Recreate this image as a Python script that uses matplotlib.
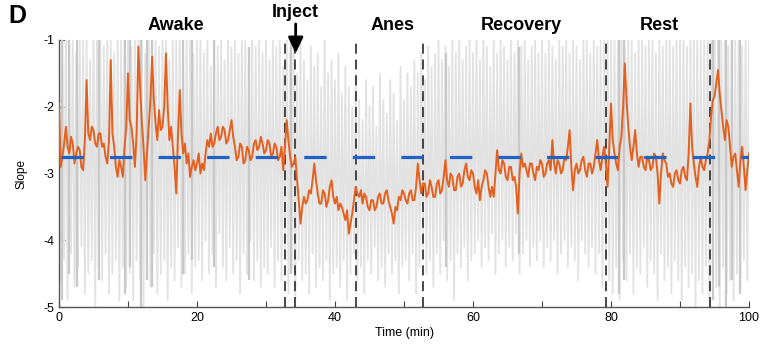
import numpy as np
import matplotlib
matplotlib.use("Agg")
import matplotlib.pyplot as plt

plt.rcParams['font.family'] = ['Liberation Sans', 'DejaVu Sans']

# ---------------- data ----------------
# smoothed slope (orange), one value every 0.25 min from 0 to 100
slope_smooth = [
    -1.95, -2.90, -2.75, -2.55, -2.30, -2.60, -2.70, -2.45, -2.55, -2.85, -2.70, -2.60, -2.65, -2.90, -2.95, -2.50, -1.60, -2.40, -2.50, -2.30,
    -2.35, -2.55, -2.60, -2.40, -2.40, -2.60, -2.55, -2.75, -2.85, -2.50, -1.30, -2.40, -2.60, -2.90, -3.05, -2.80, -2.90, -3.05, -2.60, -2.30,
    -1.50, -2.20, -2.30, -2.55, -2.90, -2.40, -1.10, -1.70, -2.20, -2.60, -3.10, -2.70, -2.30, -1.90, -1.25, -1.90, -2.25, -2.50, -2.05, -2.35,
    -2.30, -2.00, -1.20, -2.00, -2.50, -2.30, -2.60, -2.90, -3.30, -2.40, -1.75, -2.40, -2.70, -2.55, -2.85, -2.70, -3.05, -2.90, -2.80, -2.95,
    -2.85, -2.70, -3.00, -2.85, -2.95, -2.70, -2.50, -2.60, -2.40, -2.60, -2.55, -2.40, -2.30, -2.50, -2.45, -2.30, -2.35, -2.55, -2.50, -2.35,
    -2.20, -2.45, -2.60, -2.80, -2.75, -2.55, -2.60, -2.85, -2.80, -2.60, -2.65, -2.80, -2.75, -2.55, -2.50, -2.65, -2.60, -2.45, -2.55, -2.70,
    -2.65, -2.50, -2.55, -2.75, -2.70, -2.55, -2.60, -2.80, -2.75, -2.60, -2.95, -2.60, -2.20, -2.50, -2.75, -2.90, -2.85, -2.75, -3.10, -3.40,
    -3.75, -3.50, -3.35, -3.45, -3.40, -3.25, -3.30, -3.10, -2.85, -3.10, -3.30, -3.45, -3.45, -3.25, -3.30, -3.50, -3.40, -3.20, -3.10, -3.35,
    -3.45, -3.35, -3.55, -3.45, -3.50, -3.60, -3.70, -3.55, -3.90, -3.75, -3.60, -3.40, -3.20, -3.30, -3.35, -3.25, -3.45, -3.30, -3.35, -3.50,
    -3.55, -3.40, -3.40, -3.55, -3.50, -3.35, -3.30, -3.45, -3.45, -3.30, -3.25, -3.40, -3.50, -3.60, -3.75, -3.50, -3.55, -3.35, -3.40, -3.25,
    -3.30, -3.40, -3.45, -3.30, -3.25, -3.40, -3.40, -3.20, -2.85, -3.10, -3.30, -3.15, -3.15, -3.35, -3.30, -3.10, -3.20, -3.35, -3.35, -3.15,
    -3.10, -3.30, -3.25, -3.05, -2.80, -3.10, -3.20, -3.00, -3.05, -3.25, -3.25, -3.05, -3.00, -3.20, -3.15, -2.95, -2.85, -3.05, -3.10, -2.95,
    -3.00, -3.20, -3.30, -3.10, -3.40, -3.20, -3.10, -2.95, -3.00, -3.20, -3.35, -3.20, -3.35, -3.00, -2.65, -2.95, -3.00, -2.80, -2.85, -3.05,
    -3.10, -2.90, -2.90, -3.10, -3.05, -3.20, -3.60, -3.00, -2.70, -2.90, -2.85, -2.95, -3.05, -2.85, -2.85, -3.00, -3.10, -2.90, -2.95, -2.80,
    -2.85, -3.05, -3.00, -2.85, -2.80, -2.95, -2.50, -2.85, -3.00, -2.80, -2.85, -3.00, -2.95, -2.75, -2.80, -2.60, -2.35, -2.90, -3.25, -2.95,
    -2.85, -3.00, -2.95, -2.80, -2.75, -2.95, -3.05, -2.85, -2.85, -3.00, -2.90, -2.70, -2.50, -2.80, -2.95, -2.75, -2.60, -2.85, -3.20, -2.60,
    -1.95, -2.50, -2.70, -2.85, -2.95, -2.60, -2.45, -2.00, -1.35, -1.90, -2.30, -2.60, -2.80, -2.60, -2.35, -2.70, -2.90, -2.75, -2.75, -2.90,
    -2.95, -2.75, -2.80, -2.95, -2.90, -2.70, -2.75, -3.00, -3.45, -3.00, -2.70, -2.80, -2.85, -3.05, -3.00, -3.15, -3.20, -3.00, -2.95, -3.10,
    -3.15, -2.95, -2.90, -3.05, -3.10, -2.70, -1.95, -2.60, -2.85, -3.05, -3.20, -2.90, -2.75, -2.90, -2.95, -2.80, -2.70, -2.50, -2.15, -1.90,
    -1.85, -1.65, -1.45, -1.80, -2.05, -2.30, -2.50, -2.20, -2.30, -2.60, -2.90, -2.75, -2.70, -2.95, -3.20, -2.80, -2.60, -2.90, -3.25, -2.95,
    -2.70,
]

# raw slope (gray), one value every 0.25 min, alternating peak / trough
slope_raw = [
    -0.9, -4.6, -1.0, -4.3, -0.8, -4.9, -1.1, -4.2, -0.9, -4.7, -1.2, -4.4, -0.8, -4.1, -1.0, -4.8, -0.9, -4.5, -1.3, -4.3,
    -0.8, -5.0, -1.0, -4.4, -0.9, -4.6, -1.1, -4.2, -0.8, -4.8, -1.0, -4.5, -1.2, -4.3, -0.9, -4.9, -1.0, -4.4, -0.8, -4.7,
    -0.9, -4.5, -1.1, -4.9, -0.8, -4.3, -1.0, -4.6, -0.9, -5.0, -1.2, -4.4, -0.8, -4.7, -1.0, -4.2, -0.9, -4.8, -1.1, -4.5,
    -0.8, -4.3, -1.0, -4.9, -1.3, -4.4, -0.9, -4.6, -1.0, -4.1, -0.8, -4.7, -1.1, -4.5, -0.9, -4.2, -1.0, -4.8, -1.2, -4.4,
    -1.0, -4.3, -0.9, -4.6, -1.2, -4.0, -1.0, -4.5, -1.4, -4.2, -0.9, -4.7, -1.1, -3.9, -1.0, -4.4, -1.3, -4.6, -0.9, -4.1,
    -1.1, -4.5, -1.0, -4.3, -1.2, -4.8, -0.9, -4.2, -1.0, -4.5, -1.3, -4.0, -0.9, -4.6, -1.1, -4.3, -1.0, -4.7, -1.2, -4.4,
    -1.0, -4.5, -1.3, -4.1, -0.9, -4.7, -1.1, -4.3, -1.0, -4.6, -1.4, -4.2, -0.9, -4.8, -1.2, -4.4, -1.1, -4.9, -1.5, -4.3,
    -1.0, -4.6, -1.3, -4.5, -1.6, -4.8, -1.1, -4.2, -1.4, -4.7, -1.2, -4.4, -1.7, -4.6, -1.0, -4.3, -1.5, -4.9, -1.3, -4.5,
    -1.6, -4.4, -1.2, -4.7, -1.8, -4.3, -1.4, -4.9, -1.7, -4.5, -2.0, -4.2, -1.5, -4.6, -1.9, -4.4, -2.2, -4.8, -1.6, -4.3,
    -2.0, -4.5, -1.7, -4.1, -2.3, -4.6, -1.5, -4.4, -1.9, -4.7, -2.1, -4.2, -1.6, -4.5, -1.8, -4.3, -2.2, -4.8, -1.4, -4.4,
    -1.9, -4.3, -1.5, -4.6, -1.7, -4.2, -1.3, -4.8, -1.5, -4.4, -1.2, -4.1, -1.6, -4.5, -1.1, -4.3, -1.4, -4.7, -1.2, -4.2,
    -1.0, -4.5, -1.3, -4.0, -1.1, -4.6, -1.4, -4.3, -1.0, -4.9, -1.2, -4.2, -0.9, -4.4, -1.3, -4.1, -1.1, -4.6, -1.0, -4.3,
    -1.2, -4.2, -1.0, -4.0, -1.3, -4.4, -0.9, -4.1, -1.1, -4.3, -1.4, -3.9, -1.0, -4.5, -1.2, -4.2, -0.9, -4.0, -1.1, -4.4,
    -1.3, -4.1, -1.0, -4.3, -1.2, -3.9, -0.9, -4.5, -1.1, -4.2, -1.0, -4.0, -1.3, -4.4, -1.1, -4.1, -0.9, -4.3, -1.2, -4.0,
    -1.0, -4.4, -1.2, -4.1, -0.9, -4.3, -1.1, -4.0, -1.3, -4.5, -1.0, -4.2, -1.1, -4.0, -0.9, -4.4, -1.2, -4.1, -1.0, -4.3,
    -1.1, -4.6, -1.3, -4.0, -0.9, -4.2, -1.0, -4.4, -1.2, -4.1, -0.9, -4.5, -1.1, -4.2, -1.0, -4.7, -0.8, -4.3, -1.0, -4.6,
    -0.8, -4.8, -0.9, -4.4, -1.0, -4.9, -0.8, -4.3, -1.1, -4.6, -0.9, -4.2, -1.0, -4.8, -1.2, -4.4, -0.9, -4.5, -1.0, -4.1,
    -1.1, -4.7, -0.9, -4.3, -1.0, -4.5, -1.2, -4.9, -0.9, -4.2, -1.1, -4.6, -1.0, -4.4, -0.8, -4.8, -1.1, -4.3, -0.9, -4.6,
    -1.0, -4.9, -0.9, -4.4, -1.1, -4.7, -0.8, -4.5, -0.9, -5.0, -0.8, -4.6, -1.0, -4.8, -0.9, -4.4, -0.8, -4.9, -1.0, -4.5,
    -0.9, -4.7, -0.8, -5.0, -1.0, -4.4, -0.9, -4.8, -1.1, -4.6, -0.8, -4.9, -1.0, -4.5, -0.9, -4.7, -1.1, -4.3, -0.9, -4.6,
    -1.0,
]

# bursts of the raw trace that show as darker gray streaks
burst_times = [0.5, 1.4, 2.6, 5.8, 9.5, 10.3, 11.9, 12.7, 13.5, 17.9, 19.3, 22.4, 27.6,
               33.6, 56.1, 66.6, 81.1, 81.9, 94.8, 95.7, 96.6, 97.6, 98.7]
burst_high = [-1.0, -1.0, -1.0, -1.0, -1.0, -1.0, -1.0, -1.0, -1.0, -1.0, -1.0, -1.0, -1.1,
              -1.0, -1.2, -1.1, -1.0, -1.0, -1.0, -1.0, -1.0, -1.0, -1.0]
burst_low = [-4.9, -4.5, -4.7, -4.6, -4.8, -4.4, -5.0, -4.6, -4.7, -4.5, -4.3, -4.4, -4.6,
             -4.5, -4.4, -4.2, -4.8, -4.6, -4.9, -4.7, -5.0, -4.6, -4.8]

mean_slope = -2.75
epoch_bounds = [32.7, 34.2, 43.0, 52.7, 79.3, 94.3]
epoch_names = ["Awake", "Anes", "Recovery", "Rest"]
epoch_label_x = [17.0, 48.3, 67.0, 87.0]
inject_time = 34.3

t_step = 0.25
t = np.arange(len(slope_smooth)) * t_step
t_raw = np.arange(len(slope_raw)) * t_step

# ---------------- figure ----------------
fig = plt.figure(figsize=(7.68, 3.49), dpi=100)
ax = fig.add_axes([0.0768, 0.1203, 0.8985, 0.7651])

ax.plot(t_raw, slope_raw, color='#e2e2e2', lw=1.3, zorder=2)
ax.vlines(burst_times, burst_low, burst_high, color='#c8c8c8', lw=1.6, zorder=2.5)

for b in epoch_bounds:
    ax.axvline(b, color='#2a2a2a', lw=1.2, ls=(0, (6, 3.5)), zorder=3)

ax.plot(t, slope_smooth, color='#e4601e', lw=1.4, zorder=4)
ax.axhline(mean_slope, xmin=0.003, color='#1f62c4', lw=2.3,
           ls=(0, (7.0, 8.2)), zorder=5)

ax.set_xlim(0, 100)
ax.set_ylim(-5, -1)
ax.set_xticks(np.arange(0, 101, 10))
ax.set_xticklabels(['0', '', '20', '', '40', '', '60', '', '80', '', '100'])
ax.set_yticks([-5, -4, -3, -2, -1])
ax.set_yticklabels(['-5', '-4', '-3', '-2', '-1'])
ax.tick_params(direction='in', length=4, width=0.8, colors='#444444',
               labelcolor='black', labelsize=9)
ax.spines['top'].set_visible(False)
ax.spines['right'].set_visible(False)
for s in ('left', 'bottom'):
    ax.spines[s].set_color('#555555')
    ax.spines[s].set_linewidth(1.0)

ax.set_xlabel('Time (min)', fontsize=9, labelpad=2)
ax.set_ylabel('Slope', fontsize=8.5, labelpad=11)

for name, x in zip(epoch_names, epoch_label_x):
    ax.text(x, -0.78, name, ha='center', va='center', fontsize=13,
            fontweight='bold', clip_on=False)

ax.text(inject_time, -0.59, 'Inject', ha='center', va='center', fontsize=13,
        fontweight='bold', clip_on=False)
ax.annotate('', xy=(inject_time, -1.2), xytext=(inject_time, -0.76),
            annotation_clip=False,
            arrowprops=dict(arrowstyle='-|>,head_width=0.45,head_length=0.95',
                            mutation_scale=10, color='black', lw=2.0,
                            shrinkA=0, shrinkB=0))

fig.text(0.022, 0.955, 'D', fontsize=18, fontweight='bold', ha='center', va='center')

fig.savefig('out.png', dpi=100)
